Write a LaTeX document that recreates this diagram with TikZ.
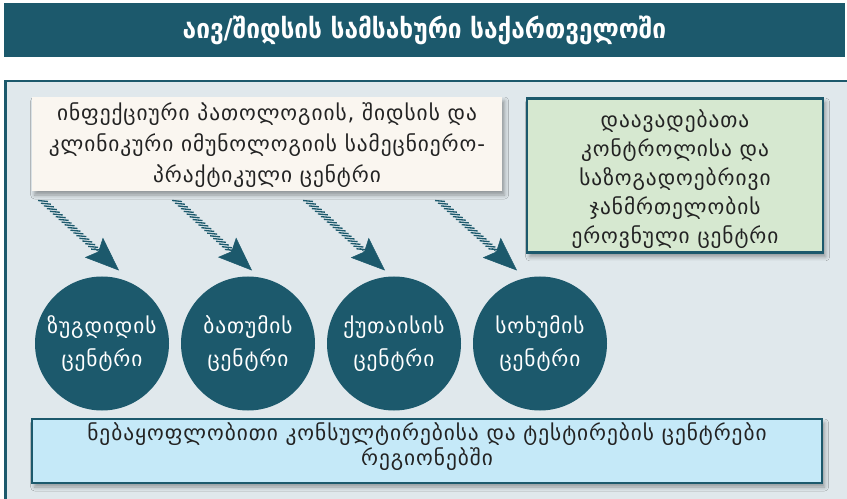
\documentclass[tikz,border=0pt]{standalone}
\usepackage{fontspec}
\newfontfamily\geo[LetterSpace=4.5]{DejaVu Sans}
\newfontfamily\geocond{DejaVu Sans Condensed}
\usetikzlibrary{arrows.meta,decorations.markings,calc,shadows.blur}
\definecolor{teal1}{RGB}{28,89,108}
\definecolor{panelbg}{RGB}{224,232,236}
\definecolor{creambg}{RGB}{250,246,240}
\definecolor{greenbg}{RGB}{214,232,208}
\definecolor{bluebg}{RGB}{197,233,248}
\definecolor{txt}{RGB}{35,35,35}
\tikzset{
  bodytext/.style={font=\geo\fontsize{16}{23.25}\selectfont, text=txt, align=center, inner sep=0pt},
  softshadow/.style={blur shadow={shadow xshift=2pt, shadow yshift=-3pt, shadow blur radius=3pt, shadow opacity=35}},
  creambox/.style={rectangle, fill=creambg, inner sep=0pt, minimum width=352.5pt, minimum height=70.5pt, softshadow},
  greenbox/.style={rectangle, fill=greenbg, draw=teal1, line width=2.2pt, inner sep=0pt, minimum width=222pt, minimum height=116pt, softshadow},
  bluebox/.style={rectangle, fill=bluebg, draw=teal1, line width=2.2pt, inner sep=0pt, minimum width=592.5pt, minimum height=48pt, softshadow},
  citycircle/.style={circle, fill=teal1, inner sep=0pt, minimum size=100.5pt, text=white, align=center, font=\geo\fontsize{16}{24.75}\selectfont},
  titlebar/.style={rectangle, fill=teal1, inner sep=0pt, minimum width=630.75pt, minimum height=40.5pt, text=white, font=\geocond\bfseries\fontsize{20.4}{24}\selectfont},
  hatch/.style={decoration={markings, mark=between positions 0 and 1 step 3pt with {\draw[teal1, line width=1pt] (216.8:3.75pt) -- (36.8:3.75pt);}}, decorate},
  headarrow/.style={draw=teal1, fill=teal1, line width=0.4pt, -{Stealth[length=25.5pt, width=20pt, inset=4.5pt]}},
}
\begin{document}
\begin{tikzpicture}[x=0.75pt,y=-0.75pt]
\useasboundingbox (0,0) rectangle (847,499);
\clip (0,0) rectangle (847,499);
\fill[white] (0,0) rectangle (847,499);
% title
\node[titlebar] (title) at (424.5,30) {აივ/შიდსის სამსახური საქართველოში};
% panel
\draw[teal1, line width=1.9pt, fill=panelbg] (5.5,81) rectangle (880,530);
% boxes
\node[creambox] (lab) at (267,144) {};
\node[bodytext] (labtext) at (267,145) {ინფექციური პათოლოგიის, შიდსის და\\კლინიკური იმუნოლოგიის სამეცნიერო-\\პრაქტიკული ცენტრი};
\node[greenbox] (ncdc) at (675,175.5) {};
\node[bodytext, font=\geo\fontsize{16}{21.75}\selectfont] (ncdctext) at (675,179) {დაავადებათა\\კონტროლისა და\\საზოგადოებრივი\\ჯანმრთელობის\\ეროვნული ცენტრი};
\node[bluebox] (vct) at (427,451) {};
\node[bodytext, font=\geo\fontsize{16}{18.75}\selectfont] (vcttext) at (427,446.5) {ნებაყოფლობითი კონსულტირებისა და ტესტირების ცენტრები\\რეგიონებში};
% circles
\node[citycircle] (c1) at (102,343.5) {ზუგდიდის\\ცენტრი};
\node[citycircle] (c2) at (248,343.5) {ბათუმის\\ცენტრი};
\node[citycircle] (c3) at (394,343.5) {ქუთაისის\\ცენტრი};
\node[citycircle] (c4) at (540,343.5) {სოხუმის\\ცენტრი};
% arrows
\foreach \i/\sx/\tx in {1/38/119, 2/172/252, 3/303/385, 4/435/517}{
  \coordinate (s\i) at (\sx+5,201);
  \coordinate (t\i) at (\tx,270.5);
  \path[hatch] (s\i) -- ($(t\i)!22pt!(s\i)$);
  \draw[headarrow] ($(t\i)!25pt!(s\i)$) -- (t\i);
}
\end{tikzpicture}
\end{document}
